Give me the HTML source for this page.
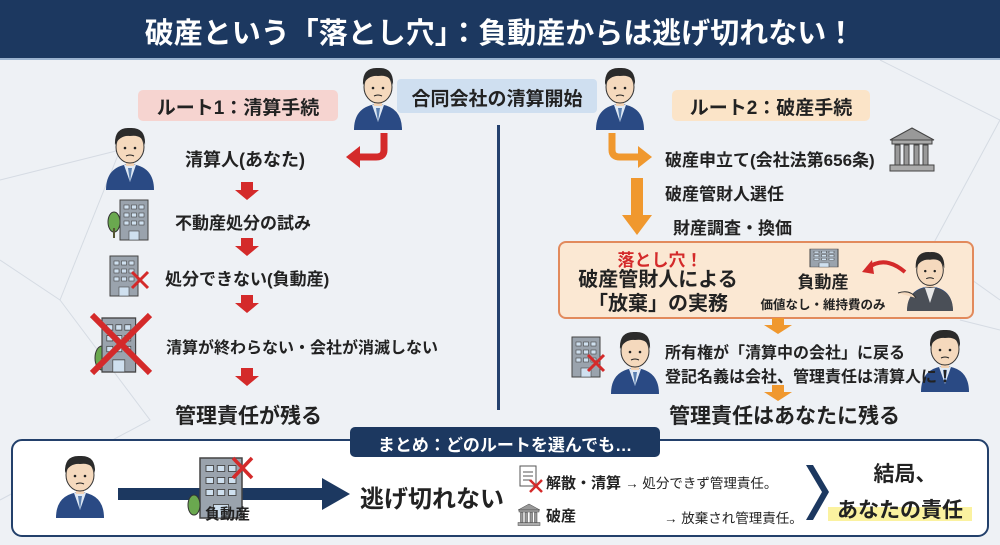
<!DOCTYPE html>
<html><head><meta charset="utf-8"><style>
body{margin:0;width:1000px;height:545px;overflow:hidden;background:#eef1f5;font-family:"Liberation Sans","Noto Sans CJK JP",sans-serif;}
.t{position:absolute;white-space:nowrap;font-weight:bold;color:#222;}
</style></head><body>
<svg width="1000" height="545" style="position:absolute;left:0;top:0">
<defs>
<g id="p">
<path d="M-24 60 Q-24 36 0 34 Q24 36 24 60 Z" fill="#2a4a84"/>
<path d="M-6 35 L0 52 L6 35 Z" fill="#dfe9f5"/><path d="M-2 38 L0 52 L2 38Z" fill="#5a7fb0"/>
<rect x="-4" y="26" width="8" height="10" fill="#f3d3b5"/>
<ellipse cx="0" cy="17" rx="14" ry="16" fill="#f5d9bd" stroke="#333" stroke-width="1"/>
<path d="M-15 15 Q-16 -3 0 -2 Q16 -3 15 15 Q12 4 0 6 Q-10 5 -15 15Z" fill="#2b2b2b"/>
<circle cx="-5" cy="18" r="1.3" fill="#222"/><circle cx="5" cy="18" r="1.3" fill="#222"/>
<path d="M-4 26 Q0 24 4 26" stroke="#222" fill="none"/>
</g>
<g id="b">
<rect x="0" y="0" width="28" height="40" fill="#9aa3ad" stroke="#444"/>
<g fill="#cfe0ef" stroke="#444" stroke-width=".6"><rect x="4" y="5" width="5" height="4"/><rect x="11.5" y="5" width="5" height="4"/><rect x="19" y="5" width="5" height="4"/><rect x="4" y="13" width="5" height="4"/><rect x="11.5" y="13" width="5" height="4"/><rect x="19" y="13" width="5" height="4"/><rect x="4" y="21" width="5" height="4"/><rect x="11.5" y="21" width="5" height="4"/><rect x="19" y="21" width="5" height="4"/><rect x="9" y="31" width="10" height="9"/></g>
</g>
<g id="bank">
<path d="M0 12 L22 0 L44 12Z" fill="#999" stroke="#444"/>
<rect x="2" y="12" width="40" height="4" fill="#aaa" stroke="#444"/>
<g fill="#999" stroke="#444"><rect x="5" y="17" width="5" height="20"/><rect x="14" y="17" width="5" height="20"/><rect x="24" y="17" width="5" height="20"/><rect x="33" y="17" width="5" height="20"/></g>
<rect x="0" y="37" width="44" height="6" fill="#aaa" stroke="#444"/>
</g>
<g id="ra"><path d="M-6 0 H6 V8 H12 L0 18 L-12 8 H-6Z" fill="#d42a2a"/></g>
</defs>
<g stroke="#d5dbe3" fill="none" stroke-width="1"><path d="M0 180 L120 150 L60 300 L0 260"/><path d="M60 300 L150 420 L0 500"/><path d="M880 60 L1000 120 L930 250 L1000 300"/><path d="M960 320 L1000 330"/></g>
<rect x="0" y="0" width="1000" height="58" fill="#1c3860"/>
<rect x="0" y="58" width="1000" height="2" fill="#9bb3cf"/>
<rect x="497" y="125" width="3" height="285" fill="#24416e"/>
<rect x="397" y="79" width="200" height="34" rx="4" fill="#cfdff0"/>
<use href="#p" x="378" y="70"/>
<use href="#p" x="620" y="70"/>
<rect x="138" y="90" width="200" height="31" rx="5" fill="#f6d4d0"/>
<rect x="672" y="90" width="198" height="31" rx="5" fill="#fbe4c8"/>
<path d="M384 133 V150 Q384 157 376 157 H358" stroke="#d42a2a" stroke-width="7" fill="none"/>
<path d="M346 157 L360 146 L360 168Z" fill="#d42a2a"/>
<path d="M612 133 V150 Q612 157 620 157 H638" stroke="#f0982e" stroke-width="7" fill="none"/>
<path d="M652 157 L638 146 L638 168Z" fill="#f0982e"/>
<use href="#p" x="130" y="130"/>
<use href="#ra" x="247" y="182"/><use href="#ra" x="247" y="238"/><use href="#ra" x="247" y="295"/><use href="#ra" x="247" y="368"/>
<ellipse cx="114" cy="222" rx="6" ry="10" fill="#6aa84f" stroke="#333"/><rect x="113" y="228" width="2" height="10" fill="#553"/>
<use href="#b" x="120" y="200"/>
<use href="#b" x="110" y="256"/>
<path d="M132 272 L148 288 M148 272 L132 288" stroke="#d42a2a" stroke-width="3"/>
<ellipse cx="102" cy="358" rx="7" ry="12" fill="#6aa84f" stroke="#333"/>
<g transform="translate(102,318) scale(1.2,1.35)"><use href="#b"/></g>
<path d="M92 315 L150 373 M150 315 L92 373" stroke="#d42a2a" stroke-width="6"/>
<use href="#bank" x="890" y="128"/>
<path d="M631 178 H643 V215 H652 L637 235 L622 215 H631Z" fill="#f0982e"/>
<rect x="559" y="242" width="414" height="76" rx="7" fill="#fbe8d3" stroke="#e28a5c" stroke-width="2"/>
<g transform="translate(810,249) scale(1,0.45)"><use href="#b"/></g>
<path d="M905 272 Q885 255 868 268" stroke="#d42a2a" stroke-width="4" fill="none"/>
<path d="M862 272 L872 260 L874 274Z" fill="#d42a2a"/>
<g transform="translate(930,254) scale(0.95)"><use href="#p"/></g>
<path d="M907 311 Q907 289 930 287 Q953 289 953 311Z" fill="#4a4f57"/>
<path d="M925 288 L930 303 L935 288Z" fill="#e8e8e8"/>
<path d="M898 293 Q910 289 916 298" stroke="#333" stroke-width="1" fill="#f5d9bd"/>
<path d="M772 318 H784 V325 H792 L778 334 L764 325 H772Z" fill="#f0982e"/>
<use href="#b" x="572" y="337"/>
<path d="M588 355 L604 371 M604 355 L588 371" stroke="#d42a2a" stroke-width="3"/>
<use href="#p" x="635" y="334"/>
<use href="#p" x="945" y="332"/>
<path d="M772 385 H784 V392 H792 L778 401 L764 392 H772Z" fill="#f0982e"/>
<rect x="12" y="440" width="976" height="96" rx="10" fill="#fff" stroke="#23406b" stroke-width="2"/>
<rect x="350" y="427" width="310" height="30" rx="5" fill="#1c3860"/>
<use href="#p" x="80" y="458"/>
<rect x="118" y="488" width="210" height="12" fill="#1c3860"/>
<path d="M322 478 L350 494 L322 510Z" fill="#1c3860"/>
<g transform="translate(200,458) scale(1.5,1.5)"><use href="#b"/></g>
<path d="M233 458 L252 478 M252 458 L233 478" stroke="#d42a2a" stroke-width="3.5"/>
<ellipse cx="194" cy="505" rx="6" ry="10" fill="#6aa84f" stroke="#333"/>
<rect x="520" y="466" width="16" height="20" fill="#fff" stroke="#555"/>
<path d="M523 472 H533 M523 476 H533 M523 480 H530" stroke="#555"/>
<path d="M530 480 L542 492 M542 480 L530 492" stroke="#d42a2a" stroke-width="2.5"/>
<g transform="translate(518,504) scale(0.5)"><use href="#bank"/></g>
<path d="M806 465 L822 492 L806 520 L813 520 L829 492 L813 465Z" fill="#1c3860"/>
<rect x="828" y="507" width="144" height="14" fill="#fbf2a0"/>
</svg>
<div class="t" style="left:0;width:1000px;top:10px;text-align:center;color:#fff;font-size:29px">破産という「落とし穴」：負動産からは逃げ切れない！</div>
<div class="t" style="left:397px;width:200px;top:84px;text-align:center;font-size:19px">合同会社の清算開始</div>
<div class="t" style="left:138px;width:200px;top:93px;text-align:center;font-size:19px">ルート1：清算手続</div>
<div class="t" style="left:672px;width:198px;top:93px;text-align:center;font-size:19px">ルート2：破産手続</div>
<div class="t" style="left:185px;top:146px;font-size:18px">清算人(あなた)</div>
<div class="t" style="left:175px;top:209px;font-size:17px">不動産処分の試み</div>
<div class="t" style="left:165px;top:265px;font-size:17px">処分できない(負動産)</div>
<div class="t" style="left:166px;top:334px;font-size:16px">清算が終わらない・会社が消滅しない</div>
<div class="t" style="left:175px;top:400px;font-size:21px">管理責任が残る</div>
<div class="t" style="left:665px;top:146px;font-size:17px">破産申立て(会社法第656条)</div>
<div class="t" style="left:665px;top:180px;font-size:17px">破産管財人選任</div>
<div class="t" style="left:673px;top:214px;font-size:17px">財産調査・換価</div>
<div class="t" style="left:580px;width:160px;top:246px;text-align:center;color:#d42a2a;font-size:17px">落とし穴！</div>
<div class="t" style="left:570px;width:176px;top:268px;text-align:center;font-size:20px;line-height:24px">破産管財人による<br>「放棄」の実務</div>
<div class="t" style="left:773px;width:100px;top:268px;text-align:center;font-size:17px">負動産</div>
<div class="t" style="left:757px;width:132px;top:294px;text-align:center;font-size:12.5px">価値なし・維持費のみ</div>
<div class="t" style="left:665px;top:339px;font-size:16px">所有権が「清算中の会社」に戻る</div>
<div class="t" style="left:665px;top:363px;font-size:16px">登記名義は会社、管理責任は清算人に！</div>
<div class="t" style="left:669px;top:400px;font-size:21px">管理責任はあなたに残る</div>
<div class="t" style="left:350px;width:310px;top:431px;text-align:center;color:#fff;font-size:17px">まとめ：どのルートを選んでも…</div>
<div class="t" style="left:205px;top:503px;font-size:15px">負動産</div>
<div class="t" style="left:360px;top:479px;font-size:24px">逃げ切れない</div>
<div class="t" style="left:546px;top:472px;font-size:15px">解散・清算 <span style="font-weight:normal;font-size:13.5px">→ 処分できず管理責任。</span></div>
<div class="t" style="left:546px;top:505px;font-size:15px">破産</div>
<div class="t" style="left:664px;top:507px;font-size:13.5px;font-weight:normal">→ 放棄され管理責任。</div>
<div class="t" style="left:830px;width:150px;top:458px;text-align:center;font-size:21px">結局、</div>
<div class="t" style="left:825px;width:150px;top:494px;text-align:center;font-size:21px">あなたの責任</div>
</body></html>
